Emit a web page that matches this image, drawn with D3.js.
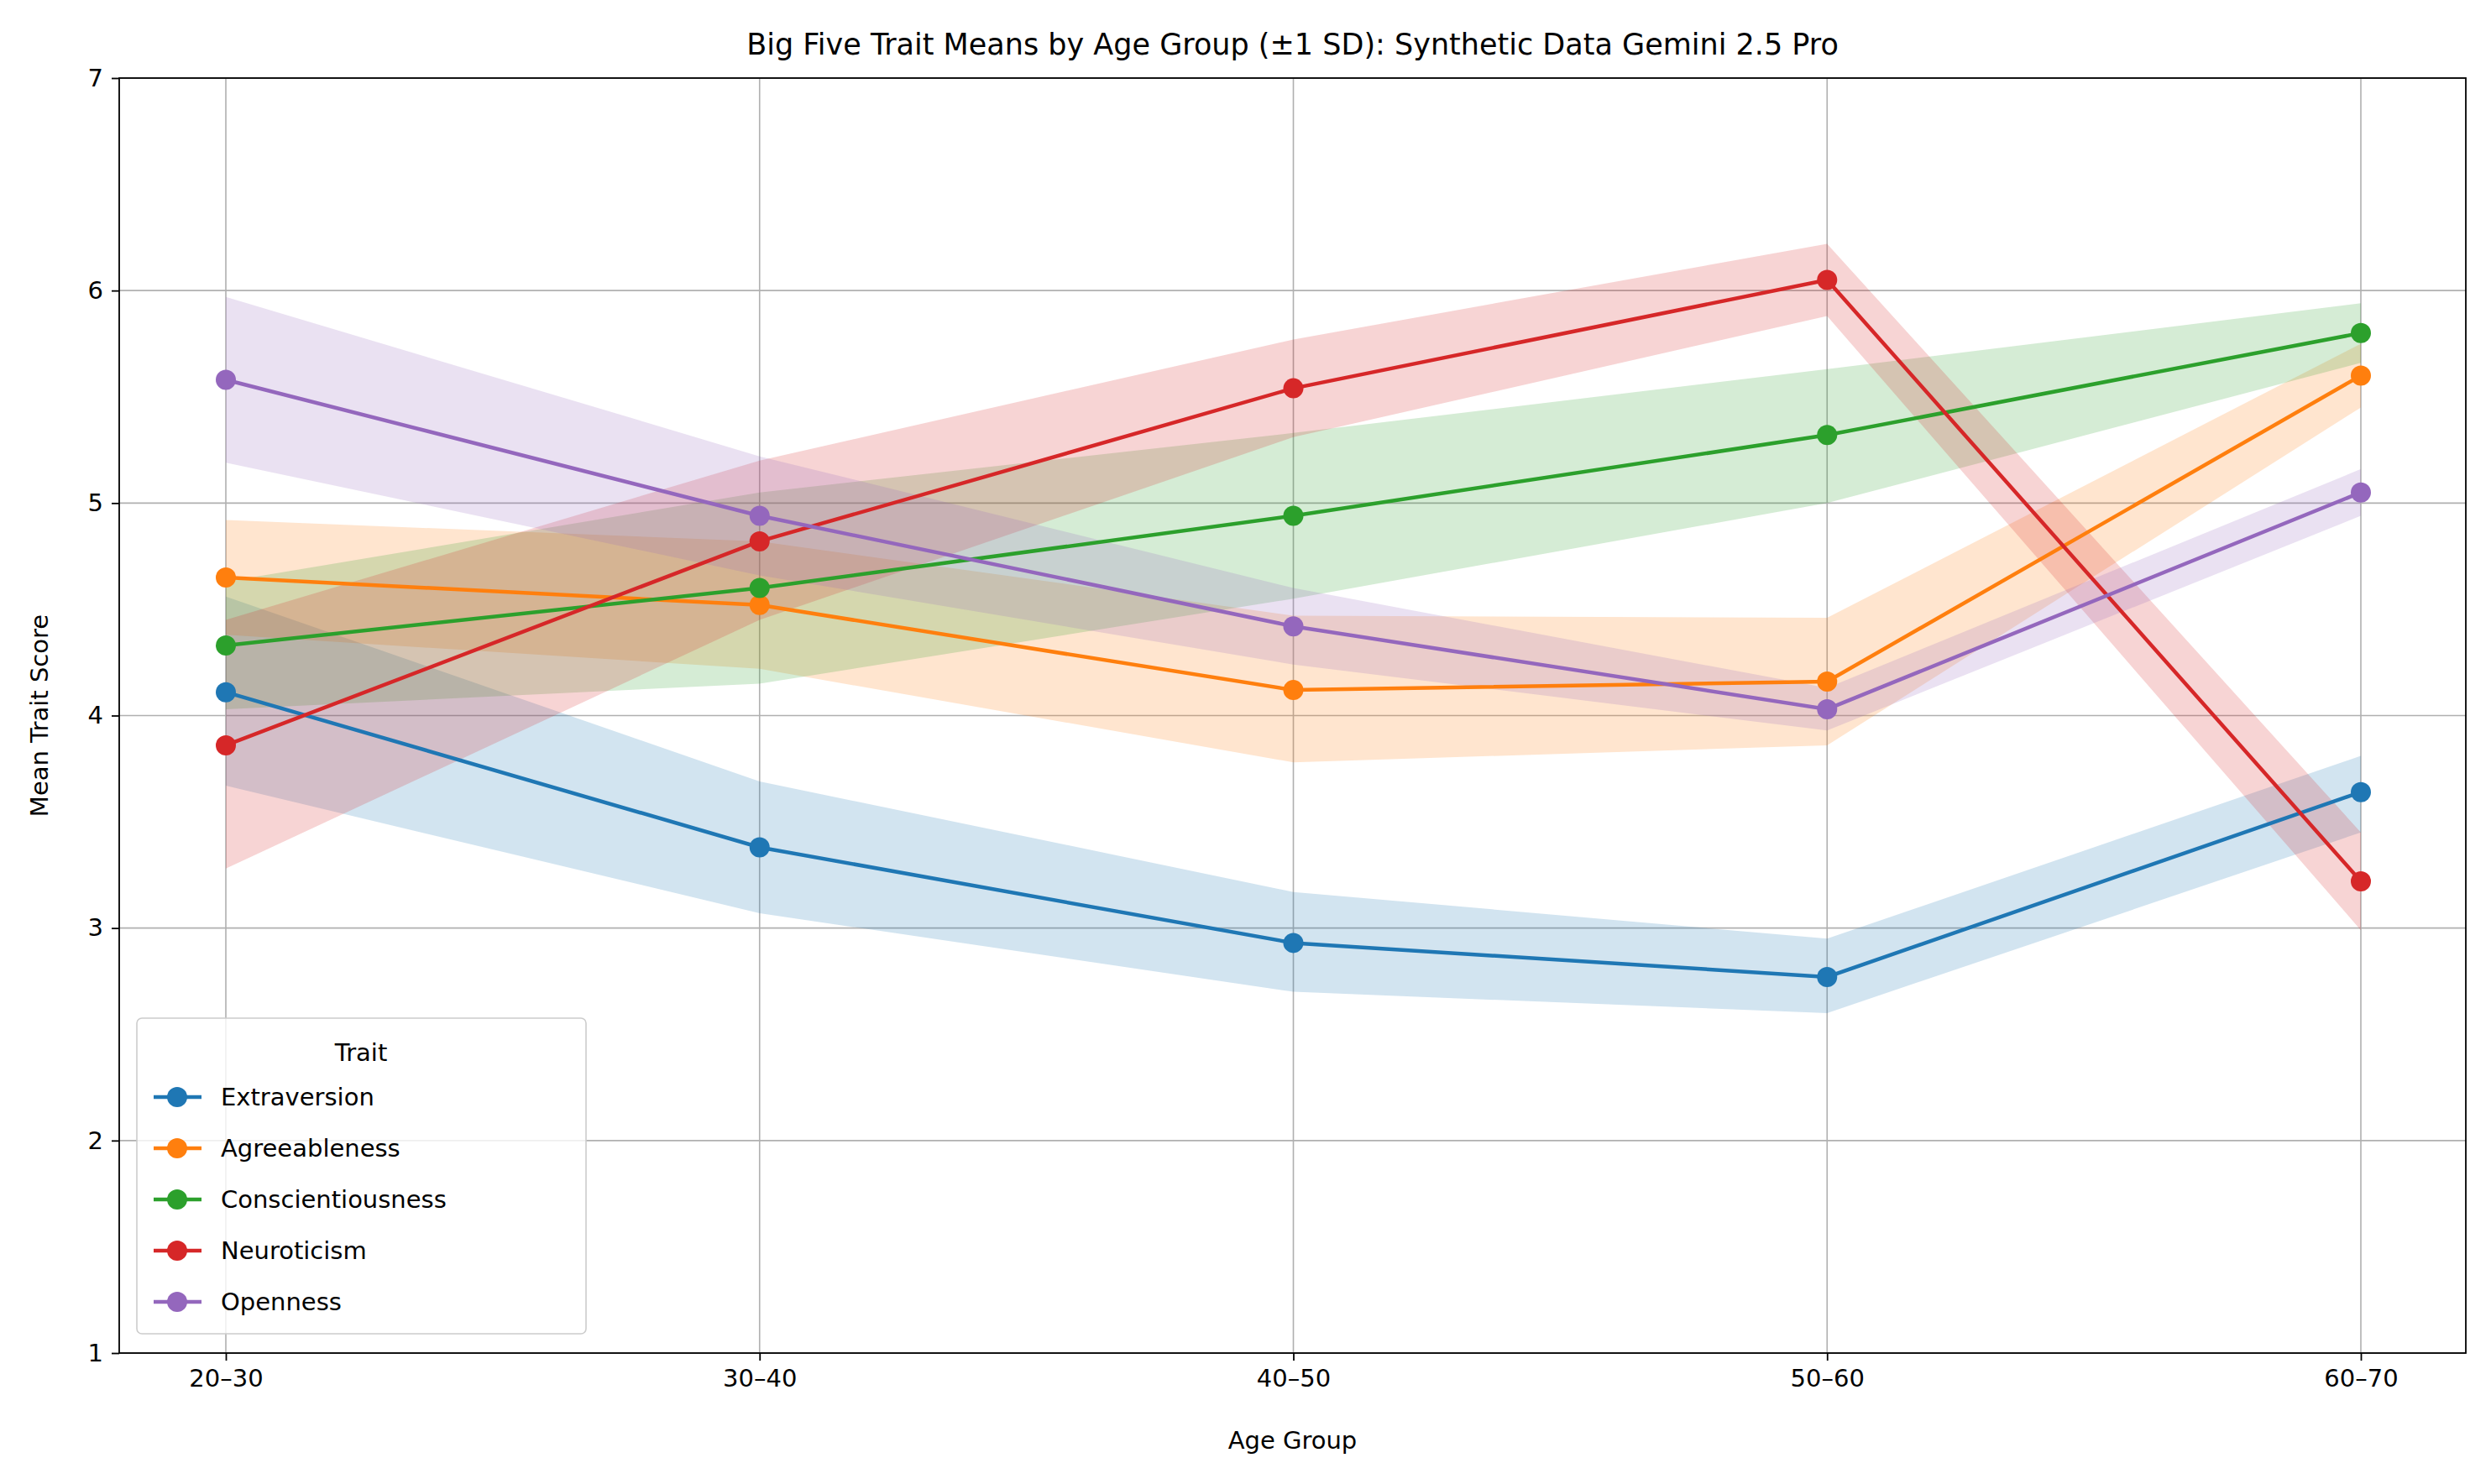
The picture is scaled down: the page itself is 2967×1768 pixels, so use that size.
<!DOCTYPE html><html><head><meta charset="utf-8"><script src="https://cdn.jsdelivr.net/npm/d3@7"></script>
<style>body{margin:0;background:#fff}text{font-family:"DejaVu Sans",sans-serif}</style></head><body><svg id="c" width="2967" height="1768"></svg><script>
const ages=["20–30","30–40","40–50","50–60","60–70"];
const traits=["Extraversion","Agreeableness","Conscientiousness","Neuroticism","Openness"];
const colors=["#1f77b4","#ff7f0e","#2ca02c","#d62728","#9467bd"];
const means=[[4.11,3.38,2.93,2.77,3.64],[4.65,4.52,4.12,4.16,5.60],[4.33,4.60,4.94,5.32,5.80],[3.86,4.82,5.54,6.05,3.22],[5.58,4.94,4.42,4.03,5.05]];
const upper=[[4.56,3.69,3.17,2.95,3.81],[4.92,4.82,4.47,4.46,5.75],[4.63,5.05,5.33,5.63,5.94],[4.45,5.20,5.77,6.22,3.45],[5.97,5.22,4.60,4.13,5.16]];
const lower=[[3.67,3.07,2.70,2.60,3.45],[4.38,4.22,3.78,3.86,5.45],[4.03,4.15,4.55,5.00,5.66],[3.28,4.45,5.31,5.88,2.99],[5.19,4.66,4.24,3.93,4.94]];
const yTicks=[1,2,3,4,5,6,7];
const svg=d3.select("#c");
const L=142,R=2937,T=93,B=1612;
const x=d3.scalePoint().domain(ages).range([269,2812]);
const y=d3.scaleLinear().domain([1,7]).range([B,T]);
const g=svg.append("g");
g.selectAll(".gx").data(ages).join("line").attr("x1",d=>x(d)).attr("x2",d=>x(d)).attr("y1",T).attr("y2",B).attr("stroke","#b0b0b0").attr("stroke-width",1.6);
g.selectAll(".gy").data(yTicks).join("line").attr("y1",d=>y(d)).attr("y2",d=>y(d)).attr("x1",L).attr("x2",R).attr("stroke","#b0b0b0").attr("stroke-width",1.6);
traits.forEach((t,i)=>{
  const area=d3.area().x((d,j)=>x(ages[j])).y0((d,j)=>y(lower[i][j])).y1((d,j)=>y(upper[i][j]));
  g.append("path").attr("d",area(ages)).attr("fill",colors[i]).attr("opacity",0.2);
});
traits.forEach((t,i)=>{
  const line=d3.line().x((d,j)=>x(ages[j])).y(d=>y(d));
  g.append("path").attr("d",line(means[i])).attr("fill","none").attr("stroke",colors[i]).attr("stroke-width",4.5);
  g.selectAll(null).data(means[i]).join("circle").attr("cx",(d,j)=>x(ages[j])).attr("cy",d=>y(d)).attr("r",12).attr("fill",colors[i]);
});
svg.append("rect").attr("x",L).attr("y",T).attr("width",R-L).attr("height",B-T).attr("fill","none").attr("stroke","#000").attr("stroke-width",1.8);
const xa=svg.append("g").attr("transform",`translate(0,${B})`).call(d3.axisBottom(x).tickSize(9).tickPadding(10));
const ya=svg.append("g").attr("transform",`translate(${L},0)`).call(d3.axisLeft(y).tickValues(yTicks).tickFormat(d3.format("d")).tickSize(9).tickPadding(10));
[xa,ya].forEach(a=>{a.select(".domain").remove();a.selectAll("text").attr("font-size",29).attr("font-family","DejaVu Sans").attr("fill","#000");a.selectAll("line").attr("stroke-width",1.8);});
svg.append("text").attr("x",(L+R)/2).attr("y",1716).attr("dy","0.35em").attr("text-anchor","middle").attr("font-size",29).text("Age Group");
svg.append("text").attr("transform",`translate(47,${(T+B)/2}) rotate(-90)`).attr("dy","0.35em").attr("text-anchor","middle").attr("font-size",29).text("Mean Trait Score");
svg.append("text").attr("x",(L+R)/2).attr("y",53).attr("dy","0.35em").attr("text-anchor","middle").attr("font-size",35).text("Big Five Trait Means by Age Group (±1 SD): Synthetic Data Gemini 2.5 Pro");
const lg=svg.append("g").attr("transform","translate(163,1213)");
lg.append("rect").attr("width",535).attr("height",376).attr("rx",6).attr("fill","#fff").attr("fill-opacity",0.8).attr("stroke","#ccc").attr("stroke-width",1.6);
lg.append("text").attr("x",267).attr("y",41).attr("dy","0.35em").attr("text-anchor","middle").attr("font-size",29).text("Trait");
traits.forEach((t,i)=>{
  const yy=94+i*61;
  lg.append("line").attr("x1",20).attr("x2",77).attr("y1",yy).attr("y2",yy).attr("stroke",colors[i]).attr("stroke-width",4.5);
  lg.append("circle").attr("cx",48).attr("cy",yy).attr("r",12).attr("fill",colors[i]);
  lg.append("text").attr("x",100).attr("y",yy).attr("dy","0.35em").attr("font-size",29).text(t);
});
</script></body></html>
